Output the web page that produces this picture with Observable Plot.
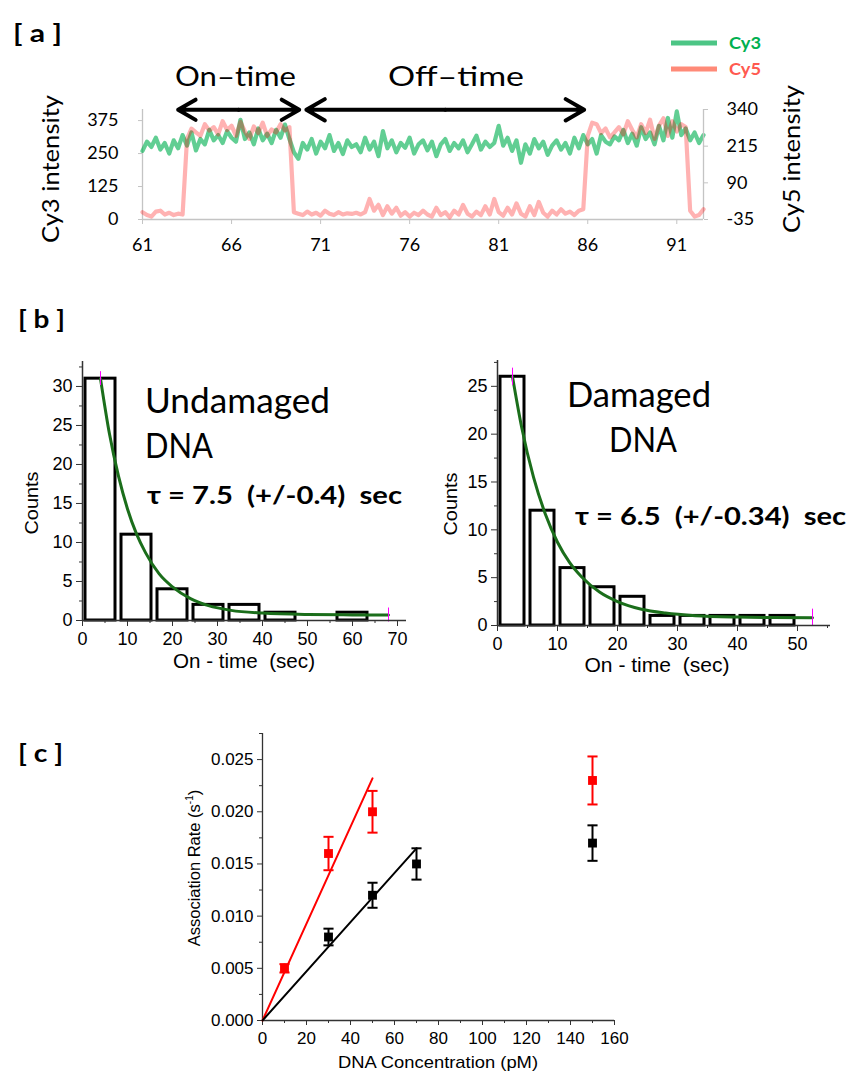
<!DOCTYPE html>
<html><head><meta charset="utf-8">
<script src="https://cdn.jsdelivr.net/npm/d3@7"></script>
<script src="https://cdn.jsdelivr.net/npm/@observablehq/plot@0.6"></script>
<style>
body{margin:0;background:#fff;}
#root{position:relative;width:848px;height:1073px;overflow:hidden;background:#fff;}
#root > svg{position:absolute;}
.cal{font-family:Lato,'Open Sans',sans-serif;}
.ari{font-family:'Liberation Sans',Arial,sans-serif;}
</style></head><body><div id="root"></div>
<script>
// ---------- Panel a : intensity traces ----------
const traceStart = 61, traceStep = 0.25;
const traceTicksX = [61, 66, 71, 76, 81, 86, 91];
const cy3Ticks = [0, 125, 250, 375];
const cy5Ticks = [-35, 90, 215, 340];
const cy3Values = [
 260,295,275,310,265,290,250,300,270,320,
 280,330,262,305,285,340,300,320,290,335,
 310,295,378,305,330,285,345,300,325,290,
 340,310,360,305,255,230,290,265,305,250,
 295,270,320,260,290,248,300,275,285,255,
 310,265,295,240,335,270,300,255,290,272,
 310,250,285,300,262,295,240,285,305,260,
 290,270,300,255,285,318,265,295,275,290,
 355,280,310,260,300,215,285,250,305,270,
 295,245,280,300,265,290,250,310,270,320,
 285,305,250,320,295,285,315,300,340,290,
 325,280,350,305,330,285,355,300,385,310,
 410,320,345,300,330,290,320];
const cy5Values = [
 -10,-20,-25,-8,-5,-18,-12,-20,-15,-18,
 240,275,262,250,290,268,280,255,300,270,
 285,250,298,265,240,282,260,295,250,272,
 262,290,268,280,-10,-15,-20,-8,-18,-12,
 -22,-5,-15,-20,-10,-18,-14,-16,-12,-18,
 -10,35,-5,15,-20,10,-15,5,-22,-10,
 -25,-12,-20,-5,-18,-25,5,-20,-10,-28,
 -5,-18,15,-15,-25,-8,-20,10,-18,35,
 -10,-22,5,-18,20,-15,-25,10,-20,25,
 -12,-25,-5,-18,0,-15,-8,-20,-5,0,
 250,295,290,260,275,245,262,280,255,300,
 270,245,290,260,305,240,285,310,250,300,
 265,290,280,-5,-25,-20,0];
const arrowSpans = [
  {label: "On–time", from: 63.0, to: 69.8},
  {label: "Off–time", from: 70.2, to: 85.8}
];

// ---------- Panel b : on-time histograms ----------
const undamagedBinStarts = [0, 8, 16, 24, 32, 40, 48, 56];
const undamagedBinWidth = 8;
const undamagedCounts = [31, 11, 4, 2, 2, 1, 0, 1];
const undamagedFitX = [4, 6, 8, 10, 12, 14, 17, 20, 24, 28, 33, 40, 50, 60, 68];
const undamagedFitY = [31, 23.9, 18.5, 14.3, 11.1, 8.7, 6.0, 4.3, 2.8, 1.9, 1.3, 0.95, 0.77, 0.72, 0.7];
const damagedBinStarts = [0, 5, 10, 15, 20, 25, 30, 35, 40, 45];
const damagedBinWidth = 5;
const damagedCounts = [26, 12, 6, 4, 3, 1, 1, 1, 1, 1];
const damagedFitX = [2.5, 4, 6, 8, 10, 12, 14, 17, 20, 24, 28, 33, 40, 46, 52.5];
const damagedFitY = [26, 20.8, 15.5, 11.6, 8.7, 6.6, 5.1, 3.5, 2.5, 1.7, 1.3, 1.03, 0.88, 0.83, 0.81];

// ---------- Panel c : association rate ----------
const redConc = [10, 30, 50, 150];
const redRate = [0.005, 0.016, 0.020, 0.023];
const redErr = [0.0004, 0.0016, 0.0020, 0.0023];
const blackConc = [30, 50, 70, 150];
const blackRate = [0.008, 0.012, 0.015, 0.017];
const blackErr = [0.0008, 0.0012, 0.0015, 0.0017];
const redFitX = [0, 50], redFitY = [0, 0.0232];
const blackFitX = [0, 70], blackFitY = [0, 0.0165];
const rateTicks = [0, 0.005, 0.010, 0.015, 0.020, 0.025];
const concTicks = [0, 20, 40, 60, 80, 100, 120, 140, 160];

const root = document.getElementById("root");
function place(svg, left, top) {
  svg.style.left = left + "px"; svg.style.top = top + "px";
  root.appendChild(svg);
}

// ===== Panel a =====
const traceTimes = cy3Values.map((_, i) => traceStart + i * traceStep);
const cy3Rows = cy3Values.map((v, i) => ({t: traceTimes[i], v}));
const cy5Rows = cy5Values.map((v, i) => ({t: traceTimes[i], v}));
const frameA = {width: 848, height: 262, marginLeft: 142, marginRight: 145, marginTop: 109, marginBottom: 43};
const styleA = {fontFamily: "Lato, 'Open Sans', sans-serif", fontSize: "18px", overflow: "visible"};
const gray = "#c4c4c4";
const plotCy3 = Plot.plot({
  ...frameA, style: {...styleA, background: "white"},
  x: {domain: [61, 92.5]}, y: {domain: [0, 417]},
  marks: [
    Plot.ruleX([61], {stroke: gray, strokeWidth: 1.3}),
    Plot.ruleY([0], {stroke: gray, strokeWidth: 1.3}),
    Plot.axisX({ticks: traceTicksX, tickSize: 5, tickPadding: 14, stroke: gray, fill: "black", label: null, tickFormat: d => String(d)}),
    Plot.axisY({anchor: "left", ticks: cy3Ticks, tickSize: 4, tickPadding: 20, stroke: gray, fill: "black", label: null, tickFormat: d => String(d)}),
    Plot.line(cy3Rows, {x: "t", y: "v", stroke: "rgb(0,176,80)", strokeOpacity: 0.62, strokeWidth: 4.2})
  ]
});
place(plotCy3, 0, 0);
const arrowRows = arrowSpans.flatMap(s => {
  const m = (s.from + s.to) / 2;
  return [{a: m, b: s.from}, {a: m, b: s.to}];
});
const plotCy5 = Plot.plot({
  ...frameA, style: {...styleA, background: "transparent"},
  x: {domain: [61, 92.5], axis: null}, y: {domain: [-35, 340]},
  marks: [
    Plot.ruleX([92.5], {stroke: gray, strokeWidth: 1.3}),
    Plot.axisY({anchor: "right", ticks: cy5Ticks, tickSize: 4, tickPadding: 19, stroke: gray, fill: "black", label: null, tickFormat: d => String(d)}),
    Plot.line(cy5Rows, {x: "t", y: "v", stroke: "rgb(255,0,0)", strokeOpacity: 0.3, strokeWidth: 4.2}),
    Plot.arrow(arrowRows, {x1: "a", x2: "b", y1: () => 339, y2: () => 339, stroke: "black", strokeWidth: 4, headLength: 8, headAngle: 60})
  ]
});
place(plotCy5, 0, 0);

// ===== Panel b =====
function histogram(o) {
  const bars = o.binStarts.map((b, i) => ({x1: b, x2: b + o.binWidth, n: o.counts[i]})).filter(d => d.n > 0);
  const fit = o.fitX.map((x, i) => ({x, y: o.fitY[i]}));
  const ends = [fit[0], fit[fit.length - 1]];
  const axisColor = "#333";
  return Plot.plot({
    width: 424, height: 330, marginLeft: o.ml, marginRight: o.mr, marginTop: o.mt, marginBottom: o.mb,
    x: {domain: [0, o.xMax]}, y: {domain: [0, o.yMax]},
    style: {fontFamily: "'Liberation Sans', Arial, sans-serif", fontSize: "18px", overflow: "visible", background: "transparent"},
    marks: [
      Plot.rect(bars, {x1: "x1", x2: "x2", y1: () => 0, y2: "n", fill: "white", stroke: "black", strokeWidth: 3, insetLeft: 3, insetRight: 3}),
      Plot.line(fit, {x: "x", y: "y", stroke: "#1b6e1b", strokeWidth: 3, curve: "monotone-x"}),
      Plot.ruleX(ends, {x: "x", y1: d => d.y - 0.9, y2: d => d.y + 0.9, stroke: "#ff00ff", strokeWidth: 1}),
      Plot.ruleX([0], {stroke: axisColor, strokeWidth: 1.5}),
      Plot.ruleY([0], {stroke: axisColor, strokeWidth: 1.5}),
      Plot.axisX({ticks: o.xTicks, tickSize: 6, tickPadding: 6, stroke: axisColor, fill: "black", label: null, tickFormat: d => String(d)}),
      Plot.axisX({ticks: o.xMinor, tickSize: 3, stroke: axisColor, label: null, tickFormat: () => ""}),
      Plot.axisY({ticks: o.yTicks, tickSize: 6, tickPadding: 4, stroke: axisColor, fill: "black", label: null, tickFormat: d => String(d)}),
      Plot.axisY({ticks: o.yMinor, tickSize: 3, stroke: axisColor, label: null, tickFormat: () => ""})
    ]
  });
}
place(histogram({
  binStarts: undamagedBinStarts, binWidth: undamagedBinWidth, counts: undamagedCounts,
  fitX: undamagedFitX, fitY: undamagedFitY, xMax: 72, yMax: 33.2,
  xTicks: [0, 10, 20, 30, 40, 50, 60, 70], xMinor: [5, 15, 25, 35, 45, 55, 65],
  yTicks: [0, 5, 10, 15, 20, 25, 30], yMinor: [2.5, 7.5, 12.5, 17.5, 22.5, 27.5, 32.5],
  ml: 82, mr: 18, mt: 21, mb: 50
}), 0, 340);
place(histogram({
  binStarts: damagedBinStarts, binWidth: damagedBinWidth, counts: damagedCounts,
  fitX: damagedFitX, fitY: damagedFitY, xMax: 55.5, yMax: 27.7,
  xTicks: [0, 10, 20, 30, 40, 50], xMinor: [5, 15, 25, 35, 45, 55],
  yTicks: [0, 5, 10, 15, 20, 25], yMinor: [2.5, 7.5, 12.5, 17.5, 22.5, 27.5],
  ml: 73, mr: 18, mt: 20, mb: 45
}), 424, 340);

// ===== Panel c =====
const redRows = redConc.map((x, i) => ({x, y: redRate[i], e: redErr[i]}));
const blackRows = blackConc.map((x, i) => ({x, y: blackRate[i], e: blackErr[i]}));
const redFit = redFitX.map((x, i) => ({x, y: redFitY[i]}));
const blackFit = blackFitX.map((x, i) => ({x, y: blackFitY[i]}));
function errMarks(rows, color) {
  return [
    Plot.ruleX(rows, {x: "x", y1: d => d.y - d.e, y2: d => d.y + d.e, stroke: color, strokeWidth: 2}),
    Plot.link(rows, {x1: d => d.x - 2.3, x2: d => d.x + 2.3, y1: d => d.y + d.e, y2: d => d.y + d.e, stroke: color, strokeWidth: 2}),
    Plot.link(rows, {x1: d => d.x - 2.3, x2: d => d.x + 2.3, y1: d => d.y - d.e, y2: d => d.y - d.e, stroke: color, strokeWidth: 2}),
    Plot.dot(rows, {x: "x", y: "y", symbol: "square", r: 5, fill: color, stroke: "none"})
  ];
}
const plotC = Plot.plot({
  width: 500, height: 363, marginLeft: 112, marginRight: 36, marginTop: 23, marginBottom: 53,
  x: {domain: [0, 160]}, y: {domain: [0, 0.0275]},
  style: {fontFamily: "'Liberation Sans', Arial, sans-serif", fontSize: "17px", overflow: "visible", background: "transparent"},
  marks: [
    Plot.ruleX([0], {stroke: "#333", strokeWidth: 1.3}),
    Plot.ruleY([0], {stroke: "#333", strokeWidth: 1.3}),
    Plot.axisX({ticks: concTicks, tickSize: 5, tickPadding: 6, stroke: "#333", fill: "black", label: null, tickFormat: d => String(d)}),
    Plot.axisX({ticks: [10, 30, 50, 70, 90, 110, 130, 150], tickSize: 3, stroke: "#333", label: null, tickFormat: () => ""}),
    Plot.axisY({ticks: rateTicks, tickSize: 5, tickPadding: 4, stroke: "#333", fill: "black", label: null, tickFormat: d3.format(".3f")}),
    Plot.axisY({ticks: [0.0025, 0.0075, 0.0125, 0.0175, 0.0225, 0.0275], tickSize: 3, stroke: "#333", label: null, tickFormat: () => ""}),
    Plot.line(redFit, {x: "x", y: "y", stroke: "red", strokeWidth: 2}),
    Plot.line(blackFit, {x: "x", y: "y", stroke: "black", strokeWidth: 2}),
    ...errMarks(redRows, "red"),
    ...errMarks(blackRows, "black")
  ]
});
place(plotC, 150, 710);

// ===== Annotations overlay =====
const ns = "http://www.w3.org/2000/svg";
const overlay = document.createElementNS(ns, "svg");
overlay.setAttribute("width", 848); overlay.setAttribute("height", 1073);
overlay.style.left = "0px"; overlay.style.top = "0px"; overlay.style.pointerEvents = "none";
overlay.innerHTML = `
<g class="cal" fill="black">
  <text x="13" y="42" font-size="24" font-weight="bold" textLength="49" lengthAdjust="spacingAndGlyphs" style="white-space:pre">[ a ]</text>
  <text x="18" y="328" font-size="24" font-weight="bold" textLength="47" lengthAdjust="spacingAndGlyphs" style="white-space:pre">[ b ]</text>
  <text x="18" y="762" font-size="24" font-weight="bold" textLength="45" lengthAdjust="spacingAndGlyphs" style="white-space:pre">[ c ]</text>
  <text x="175" y="86" font-size="27" textLength="121" lengthAdjust="spacingAndGlyphs">${arrowSpans[0].label}</text>
  <text x="388" y="86" font-size="27" textLength="136" lengthAdjust="spacingAndGlyphs">${arrowSpans[1].label}</text>
  <line x1="671" x2="717" y1="43" y2="43" stroke="#4cc585" stroke-width="5"/>
  <line x1="671" x2="717" y1="69" y2="69" stroke="#ff8a78" stroke-width="5"/>
  <text x="729" y="49" font-size="17" font-weight="bold" fill="#00b050" textLength="32" lengthAdjust="spacingAndGlyphs">Cy3</text>
  <text x="729" y="75" font-size="17" font-weight="bold" fill="#ff5a50" textLength="32" lengthAdjust="spacingAndGlyphs">Cy5</text>
  <text transform="translate(59,169) rotate(-90)" text-anchor="middle" font-size="23" textLength="148" lengthAdjust="spacingAndGlyphs">Cy3 intensity</text>
  <text transform="translate(800,159) rotate(-90)" text-anchor="middle" font-size="23" textLength="148" lengthAdjust="spacingAndGlyphs">Cy5 intensity</text>
  <text x="145" y="413" font-size="34" textLength="185" lengthAdjust="spacingAndGlyphs">Undamaged</text>
  <text x="145" y="458" font-size="34" textLength="68" lengthAdjust="spacingAndGlyphs">DNA</text>
  <text x="147" y="504" font-size="25" font-weight="bold" textLength="255" lengthAdjust="spacingAndGlyphs" style="white-space:pre">τ = 7.5  (+/-0.4)  sec</text>
  <text x="567" y="407" font-size="34" textLength="144" lengthAdjust="spacingAndGlyphs">Damaged</text>
  <text x="609" y="452" font-size="34" textLength="68" lengthAdjust="spacingAndGlyphs">DNA</text>
  <text x="575" y="525" font-size="25" font-weight="bold" textLength="271" lengthAdjust="spacingAndGlyphs" style="white-space:pre">τ = 6.5  (+/-0.34)  sec</text>
</g>
<g class="ari" fill="black">
  <text transform="translate(38,503) rotate(-90)" text-anchor="middle" font-size="19" textLength="63" lengthAdjust="spacingAndGlyphs">Counts</text>
  <text transform="translate(457,504) rotate(-90)" text-anchor="middle" font-size="19" textLength="63" lengthAdjust="spacingAndGlyphs">Counts</text>
  <text x="244" y="668" text-anchor="middle" font-size="20" textLength="142" lengthAdjust="spacingAndGlyphs" style="white-space:pre">On - time  (sec)</text>
  <text x="657" y="672" text-anchor="middle" font-size="20" textLength="145" lengthAdjust="spacingAndGlyphs" style="white-space:pre">On - time  (sec)</text>
  <text transform="translate(200,868) rotate(-90)" text-anchor="middle" font-size="16.5">Association Rate (s<tspan font-size="10" dy="-7">-1</tspan><tspan dy="7">)</tspan></text>
  <text x="438" y="1068" text-anchor="middle" font-size="17" textLength="200" lengthAdjust="spacingAndGlyphs">DNA Concentration (pM)</text>
</g>`;
root.appendChild(overlay);
</script>
</body></html>
